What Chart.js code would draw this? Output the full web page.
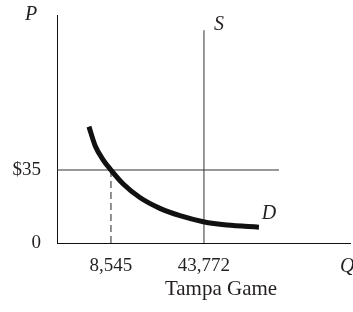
<!DOCTYPE html>
<html>
<head>
<meta charset="utf-8">
<script src="https://cdn.jsdelivr.net/npm/chart.js@4/dist/chart.umd.min.js"></script>
<style>
  body { margin: 0; background: #fff; }
  #wrap { width: 353px; height: 312px; }
</style>
</head>
<body>
<div id="wrap"><canvas id="mySupplyDemand" width="353" height="312"></canvas></div>
<script>
// Dữ liệu: cầu vé trận Tampa (sơ đồ, không theo tỉ lệ)
const demandQty   = [200, 2600, 5500, 8545, 13200, 19500, 27100, 34700, 43500, 52400, 64600];
const demandPrice = [55.8, 46.5, 40, 35, 28.3, 21.8, 16.6, 13.1, 10.2, 8.6, 7.6];
const supplyQty   = 43772;
const supplyTop   = 102;
const ticketPrice = 35;
const soldQty     = 8545;
const priceLineEnd = 72200;

const qTicks      = [8545, 43772];
const qTickLabels = ['8,545', '43,772'];
const pTicks      = [0, 35];
const pTickLabels = ['0', '$35'];

const axisNames = { p: 'P', q: 'Q', s: 'S', d: 'D', title: 'Tampa Game' };

const X_MIN = -11900, X_MAX = 99100;
const SERIF = '"Liberation Serif", "DejaVu Serif", serif';

const demandPts = demandQty.map((q, i) => ({ x: q, y: demandPrice[i] }));

// Vẽ chữ P, S, D, Q và tên trục
const labelPlugin = {
    id: 'labels',
    afterDraw(chart) {
        const ctx = chart.ctx;
        const xs = chart.scales.x, ys = chart.scales.y;
        ctx.save();
        ctx.fillStyle = '#231f20';
        ctx.font = 'italic 20px ' + SERIF;
        ctx.textBaseline = 'middle';
        ctx.textAlign = 'center';
        ctx.fillText(axisNames.p, xs.left - 26, ys.top);
        ctx.fillText(axisNames.s, xs.getPixelForValue(supplyQty) + 15, ys.getPixelForValue(supplyTop) - 5);
        const last = demandPts[demandPts.length - 1];
        ctx.fillText(axisNames.d, xs.getPixelForValue(last.x) + 10, ys.getPixelForValue(last.y) - 13);
        ctx.textAlign = 'left';
        ctx.fillText(axisNames.q, xs.right - 10, ys.bottom + 24);
        ctx.font = '21px ' + SERIF;
        ctx.textAlign = 'center';
        ctx.fillText(axisNames.title, 221, ys.bottom + 46);
        ctx.restore();
    }
};

document.addEventListener('DOMContentLoaded', function () {
    var ctx = document.getElementById('mySupplyDemand').getContext('2d');
    var myChart = new Chart(ctx, {
        type: 'scatter',
        data: {
            datasets: [
                {
                    label: 'D',
                    data: demandPts,
                    showLine: true,
                    borderColor: '#111',
                    borderWidth: 5,
                    pointRadius: 0,
                    cubicInterpolationMode: 'monotone',
                    borderCapStyle: 'butt'
                },
                {
                    label: 'S',
                    data: [{ x: supplyQty, y: 0 }, { x: supplyQty, y: supplyTop }],
                    showLine: true,
                    borderColor: '#333',
                    borderWidth: 1,
                    pointRadius: 0
                },
                {
                    label: 'price',
                    data: [{ x: X_MIN, y: ticketPrice }, { x: priceLineEnd, y: ticketPrice }],
                    showLine: true,
                    borderColor: '#333',
                    borderWidth: 1,
                    pointRadius: 0
                },
                {
                    label: 'sold',
                    data: [{ x: soldQty, y: 0 }, { x: soldQty, y: ticketPrice }],
                    showLine: true,
                    borderColor: '#222',
                    borderWidth: 1,
                    borderDash: [7, 4],
                    pointRadius: 0
                }
            ]
        },
        options: {
            responsive: false,
            animation: false,
            devicePixelRatio: 1,
            layout: { padding: { top: 15, right: 3, left: 0, bottom: 0 } },
            plugins: { legend: { display: false }, tooltip: { enabled: false } },
            scales: {
                x: {
                    type: 'linear',
                    min: X_MIN,
                    max: X_MAX,
                    grid: { display: false, drawTicks: false, tickLength: 0 },
                    border: { display: true, color: '#111', width: 1 },
                    afterBuildTicks: s => { s.ticks = qTicks.map(v => ({ value: v })); },
                    afterFit: s => { s.height = 69; s.paddingLeft = 0; s.paddingRight = 0; },
                    ticks: {
                        autoSkip: false,
                        maxRotation: 0,
                        padding: 12,
                        color: '#231f20',
                        font: { family: SERIF, size: 19 },
                        callback: (v) => qTickLabels[qTicks.indexOf(v)]
                    }
                },
                y: {
                    type: 'linear',
                    min: 0,
                    max: 109.3,
                    grid: { display: false, drawTicks: false, tickLength: 0 },
                    border: { display: true, color: '#111', width: 1 },
                    afterBuildTicks: s => { s.ticks = pTicks.map(v => ({ value: v })); },
                    afterFit: s => { s.width = 57; s.paddingTop = 0; s.paddingBottom = 0; },
                    ticks: {
                        padding: 16,
                        color: '#231f20',
                        font: { family: SERIF, size: 19 },
                        callback: (v) => pTickLabels[pTicks.indexOf(v)]
                    }
                }
            }
        },
        plugins: [labelPlugin]
    });
});
</script>
</body>
</html>
